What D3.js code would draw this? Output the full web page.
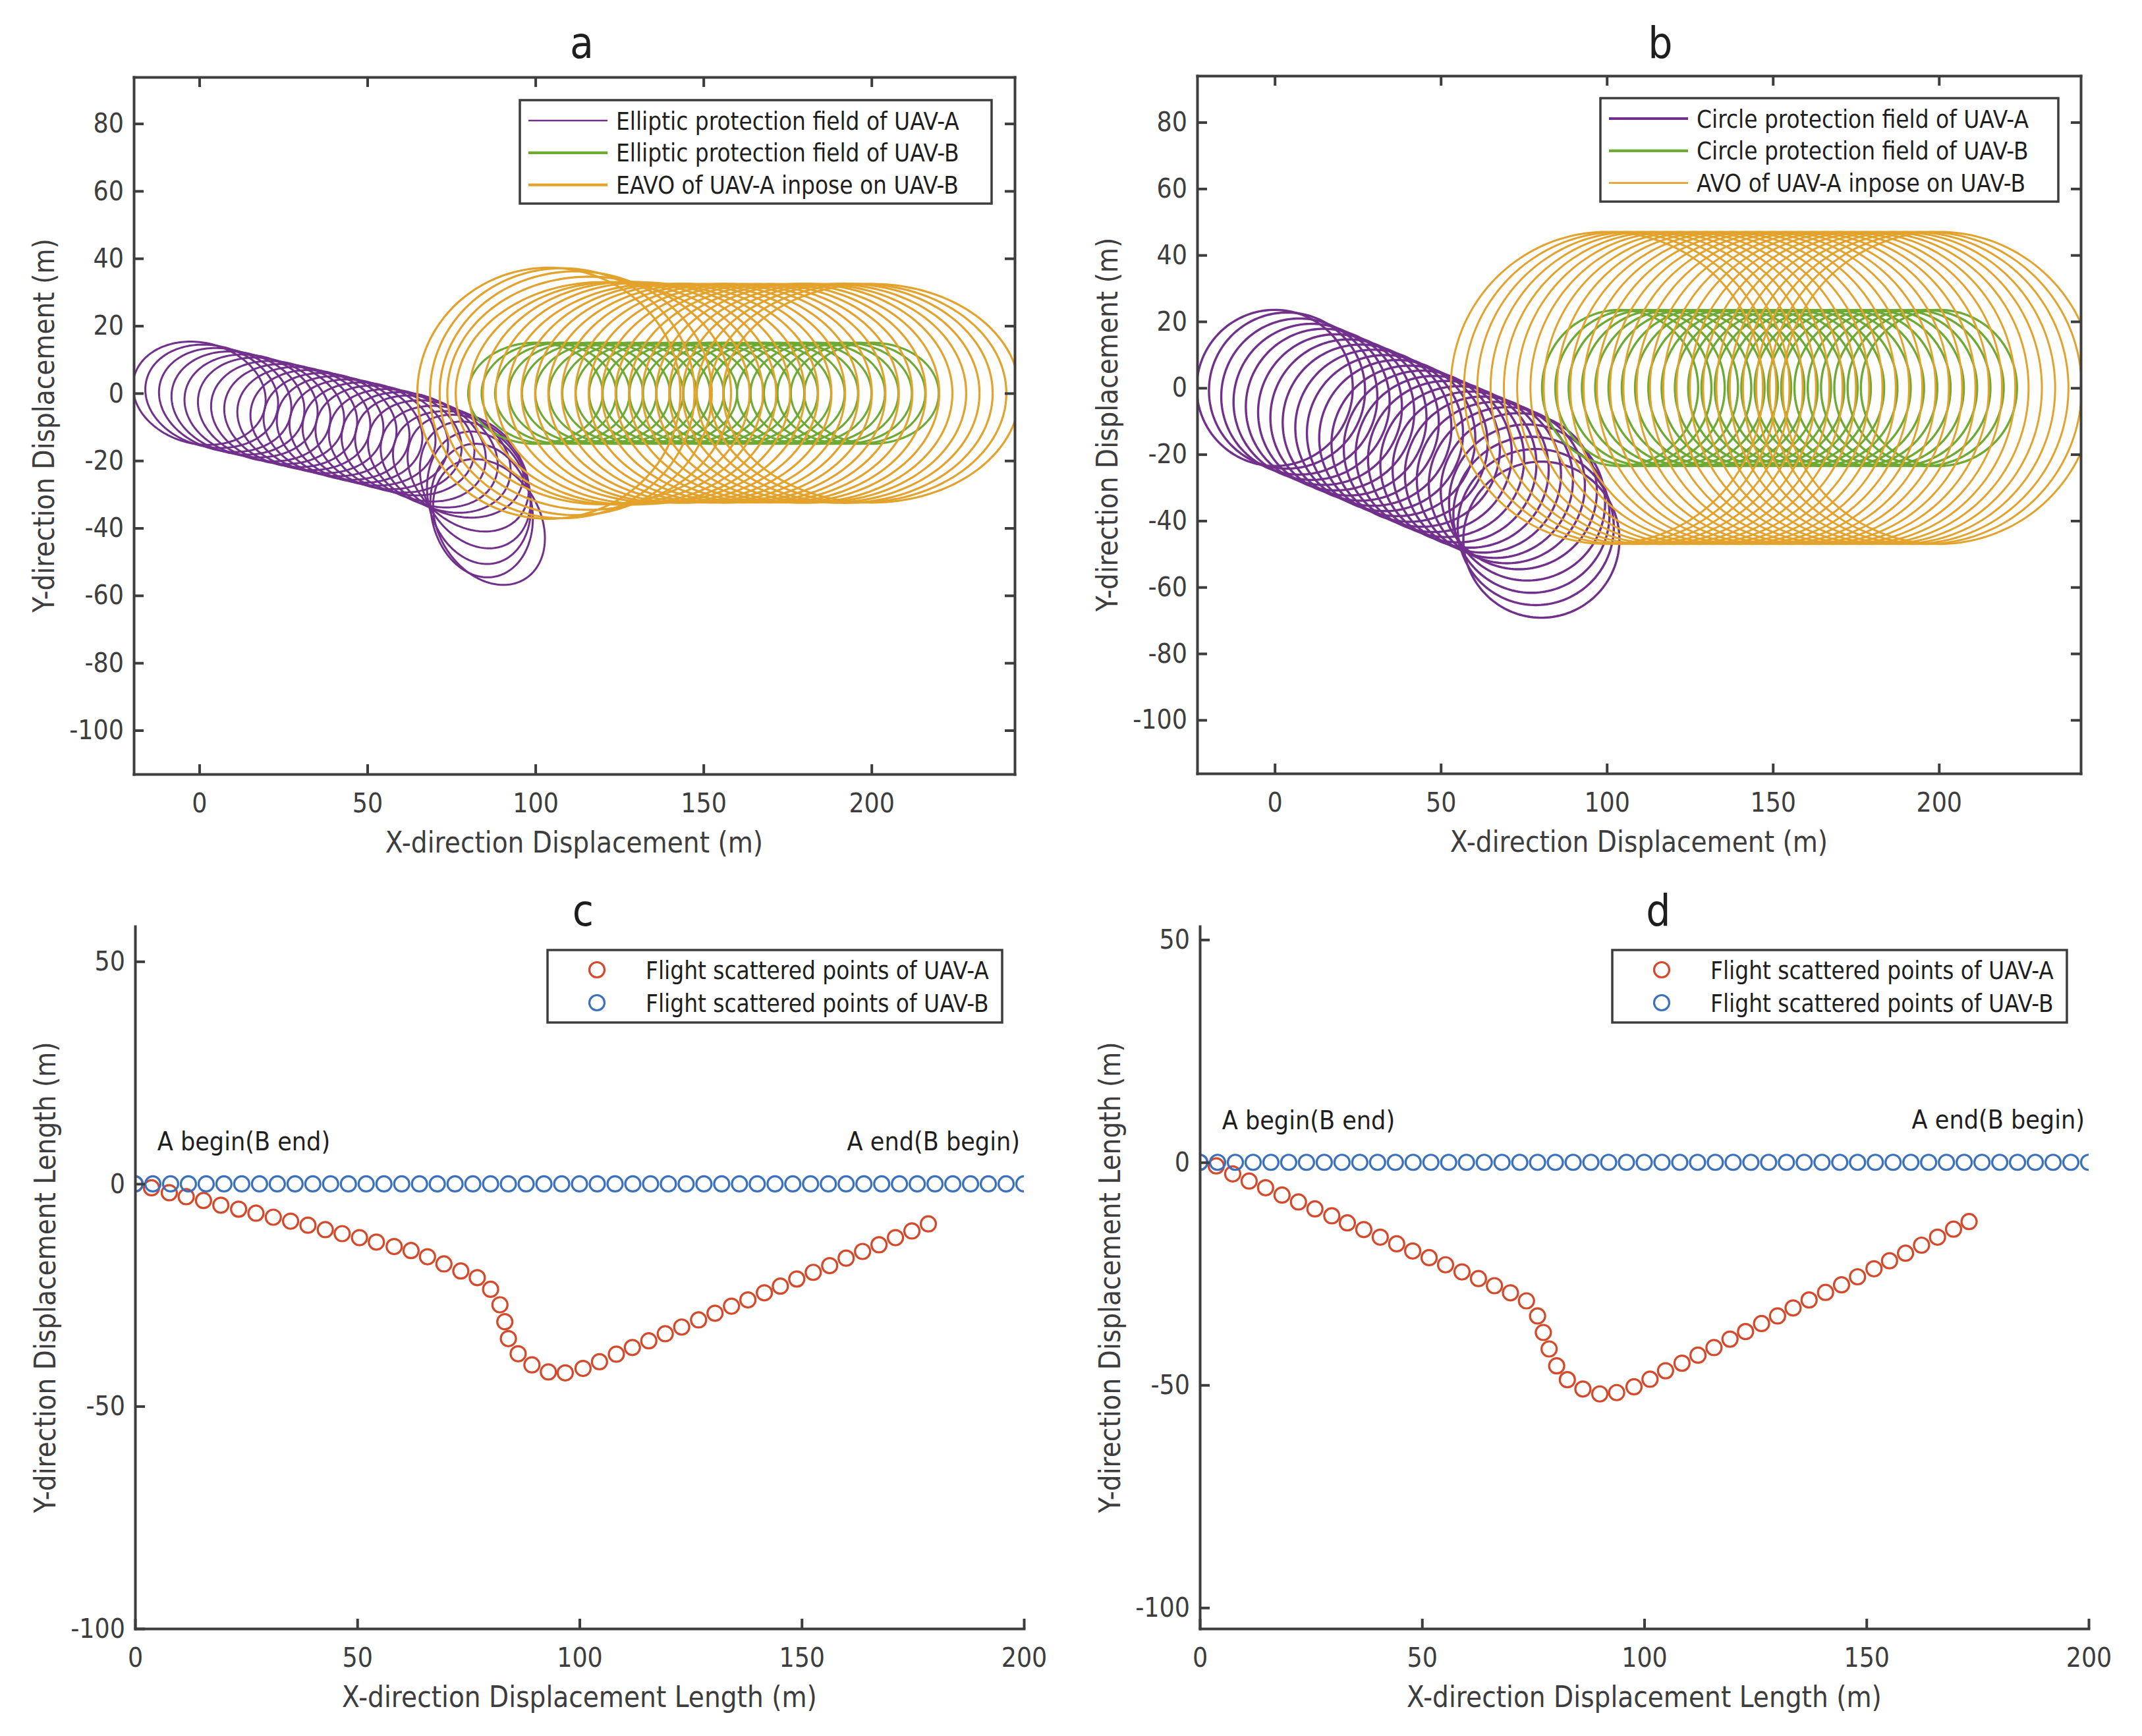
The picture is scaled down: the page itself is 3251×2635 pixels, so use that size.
<!DOCTYPE html>
<html><head><meta charset="utf-8">
<script src="https://cdn.jsdelivr.net/npm/d3@7/dist/d3.min.js"></script>
<style>body{margin:0;background:#fff}svg{display:block}</style>
</head><body>
<svg id="fig" width="3251" height="2635"></svg>
<script>
// ---------------- DATA ----------------
// UAV-B flight points (time order: B begins at x=200, ends at x=0)
const bPathX = [200,196,192,188,184,180,176,172,168,164,160,156,152,148,144,140,136,132,128,124,120,116,112,108,104,100,96,92,88,84,80,76,72,68,64,60,56,52,48,44,40,36,32,28,24,20,16,12,8,4,0];
const bPathY = [0,0,0,0,0,0,0,0,0,0,0,0,0,0,0,0,0,0,0,0,0,0,0,0,0,0,0,0,0,0,0,0,0,0,0,0,0,0,0,0,0,0,0,0,0,0,0,0,0,0,0];
// UAV-A flight points, elliptic protection field (panel c / a)
const aPathXc = [0,3.7,7.7,11.5,15.4,19.3,23.3,27.2,31.1,35.0,38.9,42.8,46.6,50.5,54.3,58.3,62.1,65.8,69.5,73.3,77.0,80.0,82.1,83.2,84.0,86.2,89.3,93.0,96.8,100.8,104.5,108.3,111.9,115.6,119.3,123.0,126.8,130.5,134.2,137.9,141.6,145.2,148.9,152.6,156.3,160.0,163.7,167.4,171.1,174.8,178.5];
const aPathYc = [0,-0.9,-2.0,-2.9,-3.75,-4.8,-5.7,-6.6,-7.5,-8.4,-9.3,-10.3,-11.2,-12.1,-13.1,-14.1,-15.0,-16.4,-18.0,-19.6,-21.1,-23.7,-27.2,-31.0,-34.8,-38.2,-40.7,-42.3,-42.5,-41.5,-40.0,-38.3,-36.8,-35.3,-33.7,-32.2,-30.6,-29.1,-27.5,-26.1,-24.5,-23.0,-21.4,-19.9,-18.4,-16.7,-15.2,-13.7,-12.1,-10.6,-9.0];
// UAV-A flight points, circle protection field (panel d / b)
const aPathXd = [0,3.7,7.4,11.1,14.8,18.5,22.2,25.9,29.7,33.2,36.9,40.6,44.3,47.9,51.6,55.3,59.0,62.7,66.3,69.9,73.5,76.0,77.3,78.6,80.3,82.7,86.2,90.0,93.8,97.7,101.3,104.8,108.5,112.1,115.7,119.3,122.8,126.4,130.0,133.5,137.1,140.8,144.4,148.0,151.7,155.2,158.8,162.4,166.0,169.6,173.1];
const aPathYd = [0,-0.8,-2.6,-4.2,-5.7,-7.35,-8.9,-10.45,-12.0,-13.6,-15.1,-16.8,-18.3,-19.9,-21.4,-23.0,-24.6,-26.1,-27.7,-29.3,-31.1,-34.5,-38.2,-41.9,-45.7,-48.8,-50.9,-52.0,-51.7,-50.4,-48.7,-46.8,-45.1,-43.3,-41.6,-39.7,-38.0,-36.2,-34.5,-32.7,-30.9,-29.2,-27.5,-25.7,-23.9,-22.1,-20.4,-18.6,-16.8,-15.0,-13.3];

// protection field sizes (m)
const ellipseSemiMajor = 20, ellipseSemiMinor = 15;   // elliptic field
const eavoScaleX = 1.11, eavoScaleY = 1.07;           // EAVO enlargement of summed extents
const circleRadius = 23.5;                            // circle field
const avoRadius = 47;                                 // AVO
// number of time steps drawn
const stepsEllipse = 26;     // panel a purple & green
const stepsEavo = 25;        // panel a orange
const stepsCircle = 25;      // panel b purple & green
const stepsAvo = 26;         // panel b orange

// ticks
const xTicks = [0,50,100,150,200];
const yTicksTop = [-100,-80,-60,-40,-20,0,20,40,60,80];
const yTicksBottom = [-100,-50,0,50];

// texts
const panelTitles = ["a","b","c","d"];
const legendA = ["Elliptic protection field of UAV-A","Elliptic protection field of UAV-B","EAVO of UAV-A inpose on UAV-B"];
const legendB = ["Circle protection field of UAV-A","Circle protection field of UAV-B","AVO of UAV-A inpose on UAV-B"];
const legendCD = ["Flight scattered points of UAV-A","Flight scattered points of UAV-B"];
const annoText = ["A begin(B end)","A end(B begin)"];
const annoX = [5, 160.2];
const annoY = [7.5, 7.6];
const xLabelTop = "X-direction Displacement (m)";
const yLabelTop = "Y-direction Displacement (m)";
const xLabelBottom = "X-direction Displacement Length (m)";
const yLabelBottom = "Y-direction Displacement Length (m)";

// ---------------- STYLE / LAYOUT ----------------
const C = {purple:"#72308D", green:"#6DAA33", orange:"#E3A22B", red:"#D5492A", blue:"#3A70C0",
           axis:"#3d3d3d", text:"#1e1e1e"};
const FONT = "DejaVu Sans";
const SQ = 0.89; // horizontal condensing of text
const panels = {
  a:{left:203,right:1540,top:117,bottom:1175,xDom:[-19.5,242.6],yDom:[-113,93.8],box:true,yTicks:yTicksTop},
  b:{left:1817,right:3158,top:115,bottom:1174,xDom:[-23.35,242.7],yDom:[-116.1,94.0],box:true,yTicks:yTicksTop},
  c:{left:205,right:1554,top:1406,bottom:2472,xDom:[0,200],yDom:[-100,57.9],box:false,yTicks:yTicksBottom},
  d:{left:1821,right:3170,top:1406,bottom:2472,xDom:[0,200],yDom:[-104.7,53.0],box:false,yTicks:yTicksBottom}
};
const titlePos = {a:[883,88], b:[2520,88], c:[885,1405], d:[2517,1405]};

const svg = d3.select("#fig");
svg.append("rect").attr("width",3251).attr("height",2635).attr("fill","#fff");

function ctext(g, str, x, y, opt){
  opt = opt || {};
  const rot = opt.rotate || 0;
  return g.append("text")
    .attr("transform",`translate(${x},${y}) rotate(${rot}) scale(${SQ},1)`)
    .attr("text-anchor", opt.anchor || "start")
    .attr("font-family", FONT)
    .attr("font-size", opt.size || 40)
    .attr("fill", opt.fill || C.axis)
    .text(str);
}

function setupPanel(key){
  const p = panels[key];
  const x = d3.scaleLinear().domain(p.xDom).range([p.left,p.right]);
  const y = d3.scaleLinear().domain(p.yDom).range([p.bottom,p.top]);
  const g = svg.append("g");
  const clipId = "clip-"+key;
  svg.append("clipPath").attr("id",clipId).append("rect")
     .attr("x",p.left).attr("y",p.top).attr("width",p.right-p.left).attr("height",p.bottom-p.top);
  const plot = g.append("g").attr("clip-path",`url(#${clipId})`);
  return {p,x,y,g,plot};
}

const fmt = d => String(d);   // plain hyphen-minus like the original

function styleAxis(sel, isLeft){
  sel.select(".domain").attr("stroke",C.axis).attr("stroke-width",4).attr("stroke-linecap","square");
  sel.selectAll(".tick line").attr("stroke",C.axis).attr("stroke-width",4);
  sel.selectAll(".tick text").attr("font-family",FONT).attr("font-size",41).attr("fill",C.axis)
     .attr("transform",`scale(${SQ},1)`);
  if(isLeft) sel.selectAll(".tick text").attr("x", -15/SQ);
  sel.attr("font-family",null).attr("font-size",null);
}

function drawAxes(P, xLabel, yLabel){
  const {p,x,y,g} = P;
  const ax = g.append("g").attr("transform",`translate(0,${p.bottom})`)
     .call(d3.axisBottom(x).tickValues(xTicks).tickFormat(fmt).tickSizeInner(-15).tickSizeOuter(0).tickPadding(29));
  styleAxis(ax,false);
  const ay = g.append("g").attr("transform",`translate(${p.left},0)`)
     .call(d3.axisLeft(y).tickValues(p.yTicks).tickFormat(fmt).tickSizeInner(-15).tickSizeOuter(0).tickPadding(15));
  styleAxis(ay,true);
  if(p.box){
    const at = g.append("g").attr("transform",`translate(0,${p.top})`)
       .call(d3.axisTop(x).tickValues(xTicks).tickSizeInner(-15).tickSizeOuter(0).tickFormat(""));
    styleAxis(at,false);
    const ar = g.append("g").attr("transform",`translate(${p.right},0)`)
       .call(d3.axisRight(y).tickValues(p.yTicks).tickSizeInner(-15).tickSizeOuter(0).tickFormat(""));
    styleAxis(ar,false);
  }
  const cx = (p.left+p.right)/2, cy = (p.top+p.bottom)/2;
  ctext(g, xLabel, cx, p.bottom+119, {anchor:"middle", size:44});
  ctext(g, yLabel, p.left-121, cy, {anchor:"middle", size:44, rotate:-90});
}

// heading of UAV-A at step i (direction of the last move; first step uses the next move)
function heading(X,Y,i){
  const i0 = i===0 ? 0 : i-1, i1 = i===0 ? 1 : i;
  return Math.atan2(Y[i1]-Y[i0], X[i1]-X[i0]);
}

function ellipsePath(P, cx, cy, a, b, th){
  const pts = d3.range(0,181).map(k=>{
    const f = k/180*2*Math.PI;
    const ex = a*Math.cos(f), ey = b*Math.sin(f);
    return [cx + ex*Math.cos(th) - ey*Math.sin(th), cy + ex*Math.sin(th) + ey*Math.cos(th)];
  });
  return d3.line().x(d=>P.x(d[0])).y(d=>P.y(d[1]))(pts);
}

function drawFields(P, list, color, width){
  P.plot.append("g").selectAll("path").data(list).join("path")
    .attr("d", d=>ellipsePath(P, d.cx, d.cy, d.a, d.b, d.th))
    .attr("fill","none").attr("stroke",color).attr("stroke-width",width);
}

function lineLegend(g, box, labels, colors, widths){
  g.append("rect").attr("x",box.x).attr("y",box.y).attr("width",box.w).attr("height",box.h)
   .attr("fill","#fff").attr("stroke",C.axis).attr("stroke-width",3.5);
  labels.forEach((t,i)=>{
    const ry = box.y + 31 + i*48.8;
    g.append("line").attr("x1",box.x+13).attr("x2",box.x+133).attr("y1",ry).attr("y2",ry)
     .attr("stroke",colors[i]).attr("stroke-width",widths[i]);
    ctext(g, t, box.x+146, ry+13.5, {size:37, fill:C.text});
  });
}

function markerLegend(g, box, labels, colors){
  g.append("rect").attr("x",box.x).attr("y",box.y).attr("width",box.w).attr("height",box.h)
   .attr("fill","#fff").attr("stroke",C.axis).attr("stroke-width",3.5);
  labels.forEach((t,i)=>{
    const ry = box.y + 30 + i*50;
    g.append("circle").attr("cx",box.x+75).attr("cy",ry).attr("r",11.5)
     .attr("fill","none").attr("stroke",colors[i]).attr("stroke-width",3.2);
    ctext(g, t, box.x+149, ry+14, {size:37, fill:C.text});
  });
}

// ---------------- PANEL a ----------------
{
  const P = setupPanel("a");
  const A = ellipseSemiMajor, B = ellipseSemiMinor;
  drawFields(P, d3.range(stepsEllipse).map(t=>({cx:aPathXc[t], cy:aPathYc[t], a:A, b:B, th:heading(aPathXc,aPathYc,t)})), C.purple, 3);
  drawFields(P, d3.range(stepsEllipse).map(t=>({cx:bPathX[t], cy:bPathY[t], a:A, b:B, th:0})), C.green, 3.2);
  // EAVO: A's field extents (along x / y) added to B's field, centred on UAV-B
  drawFields(P, d3.range(stepsEavo).map(t=>{
    const th = heading(aPathXc,aPathYc,t);
    const hA = Math.sqrt(A*A*Math.cos(th)**2 + B*B*Math.sin(th)**2);
    const vA = Math.sqrt(A*A*Math.sin(th)**2 + B*B*Math.cos(th)**2);
    return {cx:bPathX[t], cy:bPathY[t], a:eavoScaleX*(hA+A), b:eavoScaleY*(vA+B), th:0};
  }), C.orange, 3.2);
  drawAxes(P, xLabelTop, yLabelTop);
  lineLegend(P.g, {x:789,y:152,w:716,h:157}, legendA, [C.purple,C.green,C.orange], [2.6,4.2,4.2]);
}
// ---------------- PANEL b ----------------
{
  const P = setupPanel("b");
  drawFields(P, d3.range(stepsCircle).map(t=>({cx:aPathXd[t], cy:aPathYd[t], a:circleRadius, b:circleRadius, th:0})), C.purple, 3.4);
  drawFields(P, d3.range(stepsCircle).map(t=>({cx:bPathX[t], cy:bPathY[t], a:circleRadius, b:circleRadius, th:0})), C.green, 3.4);
  drawFields(P, d3.range(stepsAvo).map(t=>({cx:bPathX[t], cy:bPathY[t], a:avoRadius, b:avoRadius, th:0})), C.orange, 3);
  drawAxes(P, xLabelTop, yLabelTop);
  lineLegend(P.g, {x:2429,y:149,w:695,h:157}, legendB, [C.purple,C.green,C.orange], [4.2,4.2,2.6]);
}
// ---------------- PANELS c, d ----------------
function scatterPanel(key, AX, AY){
  const P = setupPanel(key);
  P.plot.append("g").selectAll("circle").data(d3.range(AX.length)).join("circle")
    .attr("cx",i=>P.x(AX[i])).attr("cy",i=>P.y(AY[i])).attr("r",11.5)
    .attr("fill","none").attr("stroke",C.red).attr("stroke-width",3.2);
  P.plot.append("g").selectAll("circle").data(d3.range(bPathX.length)).join("circle")
    .attr("cx",i=>P.x(bPathX[i])).attr("cy",i=>P.y(bPathY[i])).attr("r",11.5)
    .attr("fill","none").attr("stroke",C.blue).attr("stroke-width",3.2);
  drawAxes(P, xLabelBottom, yLabelBottom);
  annoText.forEach((t,i)=>ctext(P.g, t, P.x(annoX[i]), P.y(annoY[i]), {size:39.5, fill:C.text}));
  markerLegend(P.g, {x:P.p.right-723, y:P.p.top+36, w:690, h:110}, legendCD, [C.red,C.blue]);
}
scatterPanel("c", aPathXc, aPathYc);
scatterPanel("d", aPathXd, aPathYd);

// titles
panelTitles.forEach(k=>ctext(svg, k, titlePos[k][0], titlePos[k][1], {anchor:"middle", size:66, fill:C.text}));
</script>
</body></html>
